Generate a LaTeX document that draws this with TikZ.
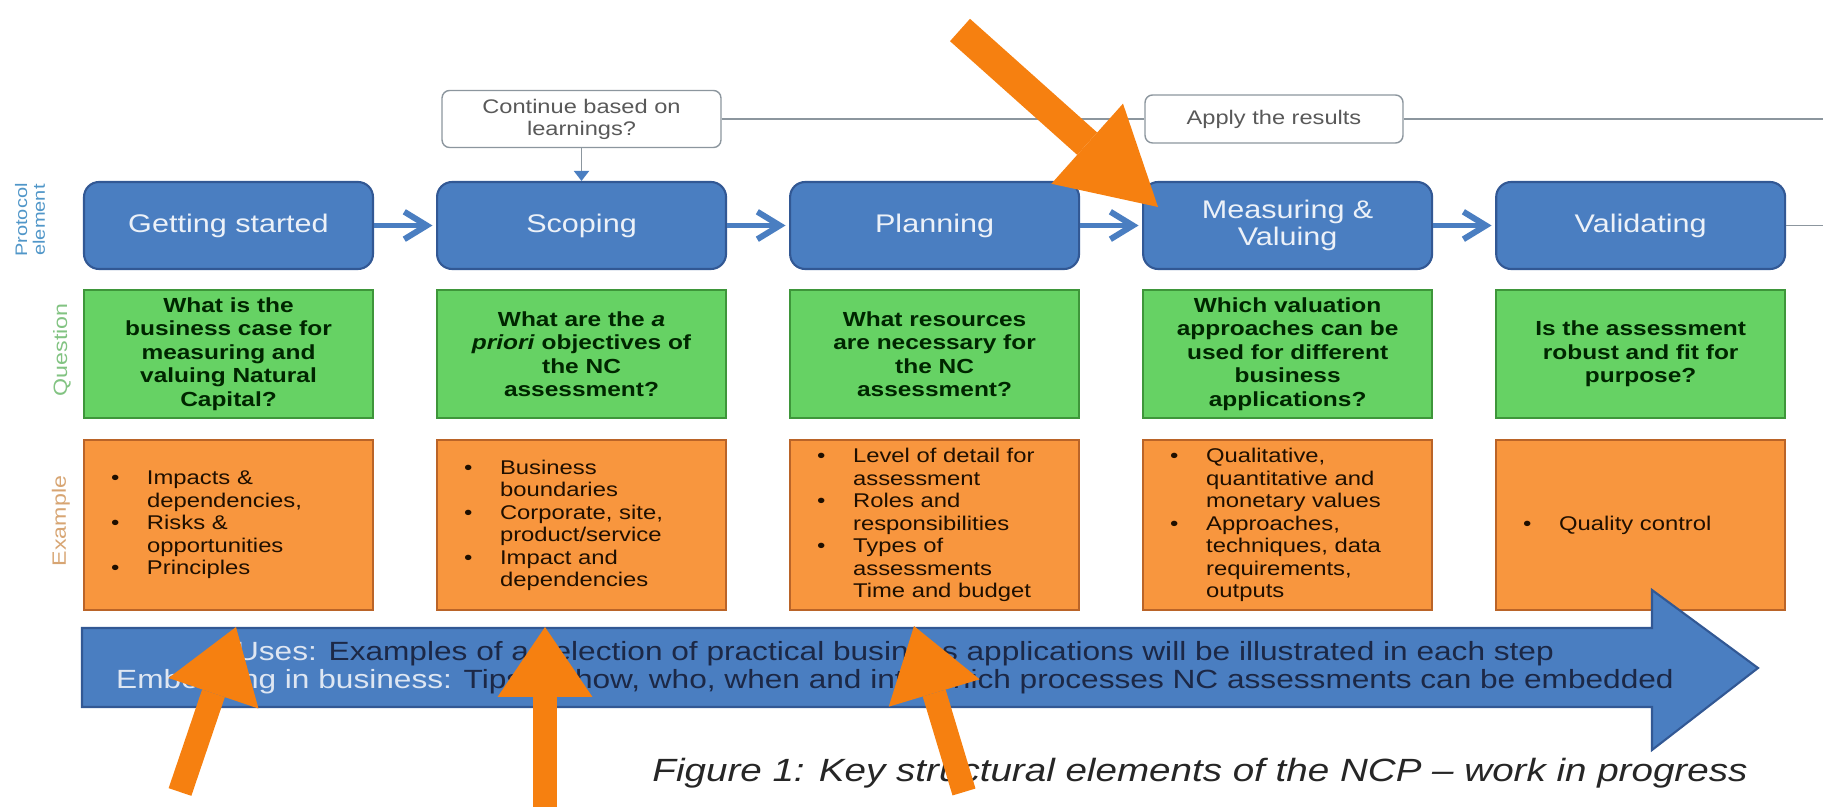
\documentclass[tikz,border=0pt]{standalone}
\usepackage{fontspec}
\setmainfont[FakeStretch=1.2]{Liberation Sans}
\usetikzlibrary{arrows.meta,positioning}

\definecolor{stepblue}{RGB}{74,126,193}
\definecolor{stepblueD}{RGB}{50,88,148}
\definecolor{askgreen}{RGB}{102,210,100}
\definecolor{askgreenD}{RGB}{62,150,58}
\definecolor{exorange}{RGB}{248,150,62}
\definecolor{exorangeD}{RGB}{186,100,40}
\definecolor{markorange}{RGB}{246,128,16}
\definecolor{loopgrey}{RGB}{140,150,158}
\definecolor{navytext}{RGB}{28,40,70}
\definecolor{palelabel}{RGB}{222,230,242}
\definecolor{protoblue}{RGB}{80,150,200}
\definecolor{asklabel}{RGB}{130,195,130}
\definecolor{exlabel}{RGB}{215,165,115}

\newcommand{\bul}[1]{\makebox[0.72cm][l]{\textbullet}#1}
\newcommand{\cnt}[1]{\hspace*{0.72cm}#1}

\begin{document}
\begin{tikzpicture}[x=0.02cm, y=-0.02cm,
  node distance=0.38cm and 1.24cm,
  stepbox/.style={draw=stepblueD, fill=stepblue, line width=1.2pt, rounded corners=0.3cm, minimum width=5.78cm, minimum height=1.74cm, inner sep=0pt, align=center, text={rgb,255:red,236;green,241;blue,248}, font=\fontsize{14.5}{15.5}\selectfont},
  askbox/.style={draw=askgreenD, fill=askgreen, line width=1.2pt, minimum width=5.78cm, minimum height=2.56cm, inner sep=0pt, align=center, text=black!85!green, font=\bfseries\fontsize{11.6}{13.3}\selectfont},
  exbox/.style={draw=exorangeD, fill=exorange, line width=1.2pt, text width=4.7cm, inner xsep=0.54cm, inner ysep=0pt, minimum height=3.4cm, align=left, text=black!88!orange, font=\fontsize{11.3}{12.8}\selectfont},
  notebox/.style={draw=loopgrey, fill=white, line width=0.8pt, rounded corners=0.15cm, inner sep=0pt, align=center, text=black!65, font=\fontsize{11.2}{12.5}\selectfont},
  rowlabel/.style={rotate=90, align=center, inner sep=0pt},
  flow/.style={-{Straight Barb[length=0.45cm,width=0.55cm]}, line width=3.4pt, draw=stepblue, shorten >=2pt},
  backline/.style={draw=loopgrey, line width=1.1pt},
  pointer/.style={draw=markorange, line width=0.48cm, -{Triangle[length=1.4cm,width=1.9cm,line width=0pt]}}
]
\useasboundingbox (0,0) rectangle (1823,807);

% protocol elements
\node[stepbox] (start) at (228.5,225.5) {Getting started};
\node[stepbox, right=of start] (scope) {Scoping};
\node[stepbox, right=of scope] (plan) {Planning};
\node[stepbox, right=of plan] (measure) {Measuring \&\\Valuing};
\node[stepbox, right=of measure] (valid) {Validating};

% questions
\node[askbox, below=of start] (askstart) {What is the\\business case for\\measuring and\\valuing Natural\\Capital?};
\node[askbox, below=of scope] (askscope) {What are the \textit{a}\\\textit{priori} objectives of\\the NC\\assessment?};
\node[askbox, below=of plan] (askplan) {What resources\\are necessary for\\the NC\\assessment?};
\node[askbox, below=of measure] (askmeasure) {Which valuation\\approaches can be\\used for different\\business\\applications?};
\node[askbox, below=of valid] (askvalid) {Is the assessment\\robust and fit for\\purpose?};

% examples
\node[exbox, below=0.4cm of askstart] (exstart) {\bul{Impacts \&}\\\cnt{dependencies,}\\\bul{Risks \&}\\\cnt{opportunities}\\\bul{Principles}};
\node[exbox, below=0.4cm of askscope] (exscope) {\bul{Business}\\\cnt{boundaries}\\\bul{Corporate, site,}\\\cnt{product/service}\\\bul{Impact and}\\\cnt{dependencies}};
\node[exbox, below=0.4cm of askplan] (explan) {\bul{Level of detail for}\\\cnt{assessment}\\\bul{Roles and}\\\cnt{responsibilities}\\\bul{Types of}\\\cnt{assessments}\\\cnt{Time and budget}};
\node[exbox, below=0.4cm of askmeasure] (exmeasure) {\bul{Qualitative,}\\\cnt{quantitative and}\\\cnt{monetary values}\\\bul{Approaches,}\\\cnt{techniques, data}\\\cnt{requirements,}\\\cnt{outputs}};
\node[exbox, below=0.4cm of askvalid] (exvalid) {\bul{Quality control}};

% row labels
\node[rowlabel, text=protoblue, font=\fontsize{9.5}{10}\selectfont] (lblstep) at (30,220) {Protocol\\element};
\node[rowlabel, text=asklabel, font=\fontsize{11}{12}\selectfont] (lblask) at (62,350) {Question};
\node[rowlabel, text=exlabel, font=\fontsize{11}{12}\selectfont] (lblex) at (61,521) {Example};

% flow between elements
\draw[flow] (start) -- (scope);
\draw[flow] (scope) -- (plan);
\draw[flow] (plan) -- (measure);
\draw[flow] (measure) -- (valid);

% feedback loop on top
\node[notebox, minimum width=5.58cm, minimum height=1.14cm] (again) at (581.5,119) {Continue based on\\learnings?};
\node[notebox, minimum width=5.16cm, minimum height=0.96cm] (apply) at (1274,119) {Apply the results};
\coordinate (rimtop) at (1823,119);
\coordinate (rimlow) at (1823,225.5);
\draw[backline] (again.east) -- (apply.west);
\draw[backline] (apply.east) -- (rimtop);
\draw[backline] (valid.east) -- (rimlow);
\draw[backline, -{Triangle[length=0.2cm,width=0.3cm,color=stepblue]}] (again.south) -- (again.south |- scope.north);

% uses / embedding band
\draw[draw=stepblueD, fill=stepblue, line width=1.2pt] (82,628) -- (1652,628) -- (1652,590) -- (1758,668) -- (1652,750) -- (1652,707) -- (82,707) -- cycle;
\node[font=\fontsize{15}{16}\selectfont, text=navytext, align=center] (uses) at (895,668) {\textcolor{palelabel}{Uses:} Examples of a selection of practical business applications will be illustrated in each step\\\textcolor{palelabel}{Embedding in business:} Tips on how, who, when and into which processes NC assessments can be embedded};

\node[font=\itshape\fontsize{18.3}{20}\selectfont, text=black!85] (caption) at (1200,773) {Figure 1: Key structural elements of the NCP -- work in progress};

% orange pointers
\coordinate (ptop) at (960,30);
\coordinate (pleft) at (180,792);
\coordinate (pmid) at (545,815);
\coordinate (pright) at (964,792);
\draw[pointer, line width=0.6cm, -{Triangle[length=1.9cm,width=2.15cm,line width=0pt]}] (ptop) -- (1158,207);
\draw[pointer] (pleft) -- (236,627);
\draw[pointer] (pmid) -- (545,627);
\draw[pointer] (pright) -- (914,626);
\end{tikzpicture}
\end{document}
